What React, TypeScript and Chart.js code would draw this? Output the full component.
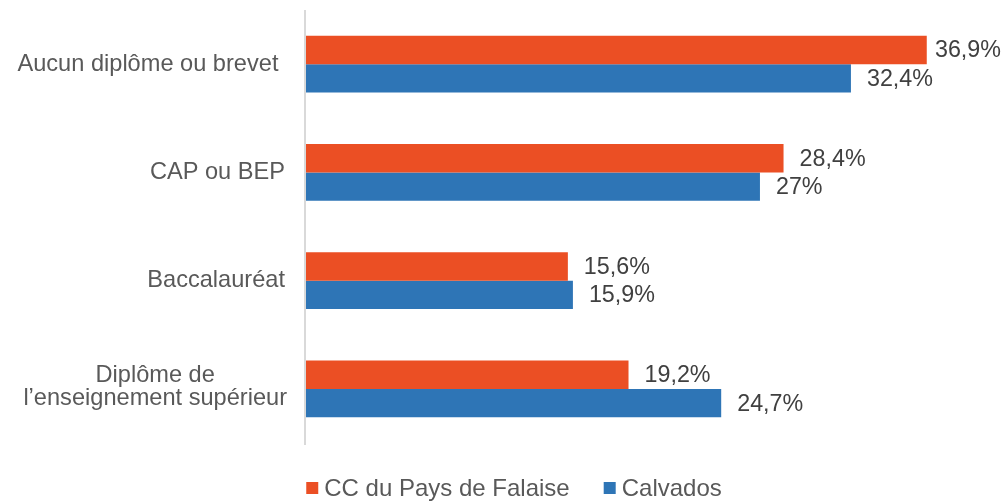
import React, { useEffect, useRef } from "react";
import { Chart, registerables } from "chart.js";

Chart.register(...registerables);

const categories: (string | string[])[] = [
  "Aucun diplôme ou brevet ",
  "CAP ou BEP",
  "Baccalauréat",
  ["Diplôme de", "l’enseignement supérieur"],
];
const seriesNames = ["CC du Pays de Falaise", "Calvados"];
const falaiseValues = [36.9, 28.4, 15.6, 19.2];
const calvadosValues = [32.4, 27, 15.9, 24.7];
const seriesColors = ["#EB4F24", "#2E75B6"];

const FONT = '"Liberation Sans", Arial, sans-serif';

const fmt = (v: number) => String(v).replace(".", ",") + "%";

const customDraw = {
  id: "customDraw",
  afterDatasetsDraw(chart: any) {
    const ctx = chart.ctx;
    const area = chart.chartArea;
    const yScale = chart.scales.y;
    ctx.save();

    // axis line
    ctx.strokeStyle = "#D9D9D9";
    ctx.lineWidth = 2;
    ctx.beginPath();
    ctx.moveTo(area.left, area.top);
    ctx.lineTo(area.left, area.bottom + 2);
    ctx.stroke();

    // category labels
    ctx.fillStyle = "#595959";
    ctx.font = `23.6px ${FONT}`;
    ctx.textBaseline = "middle";
    const rightX = area.left - 20;
    const labels = chart.data.labels as (string | string[])[];
    labels.forEach((lab, i) => {
      const y = yScale.getPixelForTick(i);
      if (Array.isArray(lab)) {
        const widths = lab.map((l) => ctx.measureText(l).width);
        const maxW = Math.max(...widths);
        const cx = rightX + 2 - maxW / 2;
        const lh = 23;
        ctx.textAlign = "center";
        lab.forEach((l, j) => {
          const ly = y - 2 + (j - (lab.length - 1) / 2) * lh;
          ctx.fillText(l, cx, ly);
        });
      } else {
        ctx.textAlign = "right";
        ctx.fillText(lab, rightX, y);
      }
    });

    // data labels
    ctx.fillStyle = "#404040";
    ctx.font = `23.3px ${FONT}`;
    ctx.textAlign = "left";
    chart.data.datasets.forEach((ds: any, di: number) => {
      const meta = chart.getDatasetMeta(di);
      meta.data.forEach((bar: any, i: number) => {
        const txt = fmt(ds.data[i]);
        const w = ctx.measureText(txt).width;
        const x = Math.min(bar.x + 16, chart.width - 4 - w);
        ctx.fillText(txt, x, bar.y + 1);
      });
    });

    // legend
    ctx.font = `24px ${FONT}`;
    const box = 12;
    const gapBoxText = 6;
    const gapItems = 34;
    const widths = chart.data.datasets.map((ds: any) => box + gapBoxText + ctx.measureText(ds.label).width);
    const total = widths.reduce((a: number, b: number) => a + b, 0) + gapItems * (widths.length - 1);
    let lx = 514 - total / 2;
    const ly = 489;
    chart.data.datasets.forEach((ds: any, di: number) => {
      ctx.fillStyle = ds.backgroundColor;
      ctx.fillRect(lx, ly - 7, box, box);
      ctx.fillStyle = "#595959";
      ctx.textAlign = "left";
      ctx.textBaseline = "middle";
      ctx.fillText(ds.label, lx + box + gapBoxText, ly);
      lx += widths[di] + gapItems;
    });

    ctx.restore();
  },
};

export default function App() {
  const ref = useRef<HTMLCanvasElement | null>(null);
  useEffect(() => {
    if (!ref.current) return;
    const chart = new Chart(ref.current, {
      type: "bar",
      data: {
        labels: categories,
        datasets: [
          {
            label: seriesNames[0],
            data: falaiseValues,
            backgroundColor: seriesColors[0],
            borderWidth: 0,
          },
          {
            label: seriesNames[1],
            data: calvadosValues,
            backgroundColor: seriesColors[1],
            borderWidth: 0,
          },
        ],
      },
      options: {
        indexAxis: "y",
        animation: false,
        responsive: false,
        maintainAspectRatio: false,
        layout: { padding: { left: 305, right: 26, top: 10, bottom: 60 } },
        datasets: {
          bar: { categoryPercentage: 0.525, barPercentage: 1 },
        },
        scales: {
          x: { display: false, min: 0, max: 40 },
          y: { display: false },
        },
        plugins: {
          legend: { display: false },
          tooltip: { enabled: false },
        },
      },
      plugins: [customDraw],
    });
    return () => chart.destroy();
  }, []);
  return (
    <div style={{ position: "absolute", left: 0, top: 0, width: 1005, height: 503, background: "#fff" }}>
      <canvas ref={ref} width={1005} height={503} />
    </div>
  );
}
